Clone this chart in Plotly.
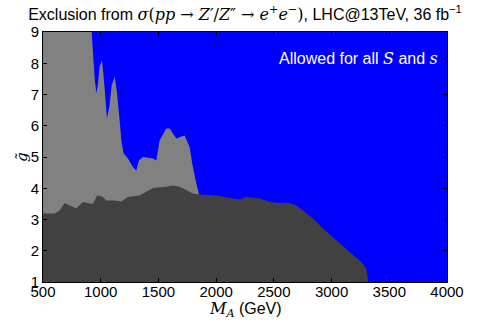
import plotly.graph_objects as go

# light grey region: excluded for some S, s (upper edge)
light_x = [500, 919, 925, 933, 948, 962, 975, 990, 1011, 1025, 1040, 1054, 1075, 1095, 1121,
           1140, 1164, 1180, 1199, 1236, 1279, 1308, 1331, 1366, 1453, 1482, 1510, 1568, 1597,
           1626, 1655, 1700, 1727, 1770, 1793, 1828, 1851, 1856]
light_y = [9.2, 9.2, 8.8, 8.31, 7.5, 7.05, 7.3, 7.9, 8.09, 7.6, 6.9, 6.25, 6.6, 7.3, 7.58,
           7.1, 6.17, 5.5, 5.11, 4.95, 4.68, 4.57, 4.89, 5.0, 4.95, 4.89, 5.53, 5.91, 5.91,
           5.75, 5.59, 5.66, 5.69, 5.32, 4.79, 4.15, 3.83, 1.0]

# dark grey region: excluded for all S, s (upper edge)
dark_x = [500, 601, 644, 688, 731, 789, 846, 904, 933, 968, 1011, 1049, 1121, 1179, 1236,
          1337, 1409, 1453, 1568, 1626, 1684, 1741, 1799, 1857, 2001, 2145, 2203, 2261,
          2377, 2464, 2550, 2637, 2694, 2752, 2838, 2925, 3041, 3156, 3257, 3301, 3315, 3318]
dark_y = [3.19, 3.19, 3.29, 3.53, 3.45, 3.35, 3.56, 3.53, 3.5, 3.77, 3.74, 3.61, 3.61, 3.58, 3.72,
          3.77, 3.93, 4.01, 4.05, 4.09, 4.05, 3.93, 3.83, 3.8, 3.77, 3.67, 3.64, 3.72,
          3.67, 3.56, 3.53, 3.53, 3.45, 3.29, 3.03, 2.71, 2.33, 1.96, 1.64, 1.43, 1.16, 1.0]

x_ticks = [500, 1000, 1500, 2000, 2500, 3000, 3500, 4000]
y_ticks = [1, 2, 3, 4, 5, 6, 7, 8, 9]

SERIF = "font-family:'DejaVu Serif',serif"

fig = go.Figure()
fig.add_trace(go.Scatter(x=light_x, y=light_y, mode="lines", line=dict(width=0, color="#818181"),
                         fill="tozeroy", fillcolor="#818181", hoverinfo="skip"))
fig.add_trace(go.Scatter(x=dark_x, y=dark_y, mode="lines", line=dict(width=0, color="#414141"),
                         fill="tozeroy", fillcolor="#414141", hoverinfo="skip"))

title = ("Exclusion from <span style=\"%s\"><i>σ</i>(<i>pp</i> → <i>Z</i>′/<i>Z</i>″ → "
         "<i>e</i><sup>+</sup><i>e</i><sup>−</sup>)</span>, LHC@13TeV, 36 fb<sup>−1</sup>") % SERIF

fig.add_annotation(x=0.983, y=0.896, xref="paper", yref="paper", xanchor="right", yanchor="middle",
                   showarrow=False,
                   text="Allowed for all <span style=\"%s\"><i>S</i></span> and <span style=\"%s\"><i>s</i></span>" % (SERIF, SERIF),
                   font=dict(color="white", size=16))

# axis titles as annotations so they sit where the reference has them
fig.add_annotation(x=0.5, y=-0.108, xref="paper", yref="paper", xanchor="center", yanchor="middle",
                   showarrow=False, font=dict(size=16),
                   text="<span style=\"%s\"><i>M<sub>A</sub></i></span> (GeV)" % SERIF)
fig.add_annotation(x=-0.052, y=0.5, xref="paper", yref="paper", xanchor="center", yanchor="middle",
                   showarrow=False, textangle=-90, font=dict(size=15),
                   text="<span style=\"%s\"><i>g̃</i></span>" % SERIF)

axis_style = dict(showline=True, linecolor="black", linewidth=1, mirror="ticks", ticks="inside",
                  ticklen=4, tickcolor="black", showgrid=False, zeroline=False, automargin=False,
                  tickfont=dict(size=15, color="black"))

fig.update_layout(
    width=491, height=327,
    margin=dict(l=43, r=44, t=32, b=45),
    paper_bgcolor="white", plot_bgcolor="#0000FF",
    showlegend=False,
    font=dict(family="Liberation Sans, Arial, sans-serif", color="black"),
    title=dict(text=title, x=0.5, xanchor="center", xref="paper", y=0.957, yanchor="middle",
               font=dict(size=16), automargin=False),
    xaxis=dict(range=[500, 4000], tickvals=x_ticks, ticktext=[str(v) for v in x_ticks],
               ticklabelstandoff=-4, **axis_style),
    yaxis=dict(range=[1, 9], tickvals=y_ticks, ticktext=[str(v) for v in y_ticks], **axis_style),
)

# drop the default page margin so the figure fills the window
fig.write_html("out.html", config={"displayModeBar": False},
               post_script="document.body.style.margin='0';")
